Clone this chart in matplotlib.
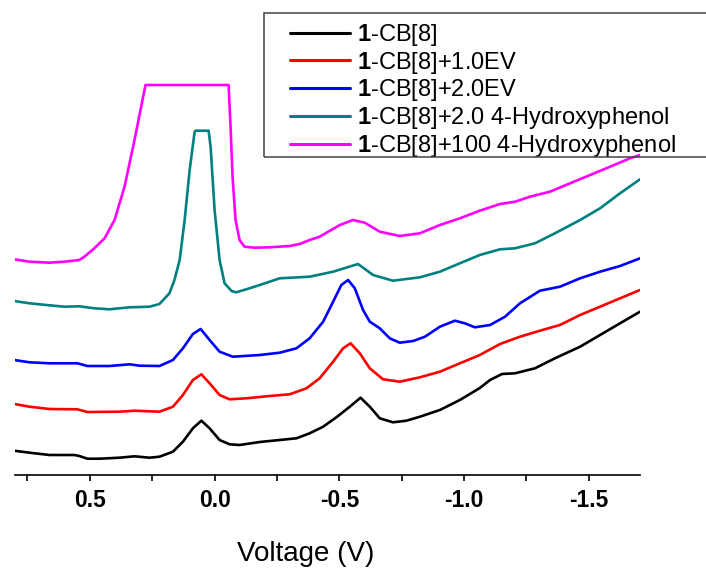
import matplotlib
matplotlib.use("Agg")
import matplotlib.pyplot as plt
from matplotlib.patches import Rectangle

plt.rcParams['font.family'] = ['Liberation Sans', 'DejaVu Sans']
plt.rcParams['mathtext.fontset'] = 'custom'
plt.rcParams['mathtext.rm'] = 'Liberation Sans'
plt.rcParams['mathtext.bf'] = 'Liberation Sans:bold'

# potentials (V) and offset currents (a.u.) for each trace
v_cb8 = [0.803, 0.742, 0.662, 0.562, 0.542, 0.510, 0.461, 0.381, 0.321, 0.261, 0.221, 0.167,
         0.127, 0.087, 0.053, 0.020, -0.020, -0.060, -0.100, -0.181, -0.261, -0.328, -0.381,
         -0.435, -0.488, -0.542, -0.585, -0.622, -0.662, -0.715, -0.769, -0.823, -0.903,
         -0.983, -1.063, -1.104, -1.152, -1.204, -1.284, -1.364, -1.465, -1.545, -1.625,
         -1.705]
i_cb8 = [50.3, 48.3, 46, 46, 45, 42.3, 42.3, 43.3, 44.7, 43.3, 44.3, 49.3,
         59.3, 72.7, 80.3, 72.7, 61, 56.7, 56, 59, 61, 62.7, 67.7,
         74.3, 83.7, 94.3, 103.3, 94.3, 82.7, 78.7, 80.3, 84.3, 91,
         101, 113, 121, 127, 127.7, 132.7, 142.7, 154.3, 166, 177.7,
         189.3]

v_ev1 = [0.803, 0.742, 0.662, 0.550, 0.510, 0.381, 0.321, 0.221, 0.167, 0.127, 0.087, 0.053,
         0.020, -0.020, -0.060, -0.127, -0.221, -0.301, -0.368, -0.421, -0.475, -0.515,
         -0.545, -0.582, -0.622, -0.675, -0.742, -0.823, -0.903, -0.983, -1.063, -1.144,
         -1.224, -1.304, -1.384, -1.465, -1.545, -1.625, -1.705]
i_ev1 = [97, 94.3, 92, 91.7, 89, 89.3, 90.3, 89.3, 94.3, 106, 121, 126.7,
         117.7, 106, 101.7, 102.7, 105, 106.7, 112.7, 122.7, 139.3, 152.7,
         157.7, 147.7, 132.7, 121.7, 119.3, 123.7, 129.3, 137.7, 146, 157,
         164.3, 170.3, 176, 186, 194.3, 202.7, 211]

v_ev2 = [0.803, 0.742, 0.662, 0.550, 0.510, 0.421, 0.341, 0.301, 0.221, 0.167, 0.127, 0.087,
         0.056, 0.020, -0.020, -0.073, -0.181, -0.261, -0.328, -0.381, -0.435, -0.475,
         -0.508, -0.535, -0.562, -0.595, -0.622, -0.662, -0.702, -0.742, -0.796, -0.843,
         -0.903, -0.963, -1.003, -1.043, -1.104, -1.164, -1.224, -1.304, -1.384, -1.465,
         -1.545, -1.625, -1.705]
i_ev2 = [141, 138.7, 137.7, 137.7, 135, 135, 136.7, 135.3, 135, 141, 152.7, 167,
         172, 161, 149.3, 144.3, 146, 148.3, 152.7, 162.7, 179.3, 199.3,
         216, 221, 212.7, 191, 179.3, 172.7, 162.7, 158.3, 160, 164.3,
         174.3, 180.3, 177.7, 173.7, 176, 184.3, 197.7, 210.3, 214.3, 222.7,
         229.3, 235, 242.7]

v_hq2 = [0.803, 0.742, 0.662, 0.602, 0.542, 0.482, 0.421, 0.341, 0.261, 0.221, 0.181, 0.161,
         0.140, 0.120, 0.100, 0.080, 0.076, 0.024, 0.016, 0.000, -0.020, -0.040, -0.068,
         -0.087, -0.140, -0.181, -0.261, -0.381, -0.475, -0.575, -0.635, -0.715, -0.823,
         -0.903, -0.983, -1.063, -1.144, -1.204, -1.284, -1.364, -1.465, -1.545, -1.625,
         -1.705]
i_hq2 = [200, 197.7, 195.7, 194.3, 194.7, 192.7, 191.7, 193.7, 194.3, 197, 207.7, 221,
         241, 281, 331, 369.3, 370.3, 370.3, 354.3, 291, 241, 217.7, 210,
         208.7, 212.7, 216, 222.7, 224.3, 229.3, 237, 226, 220.3, 223.7,
         229.3, 237.7, 246, 251.7, 252.7, 257.7, 267.7, 281, 292.7, 307.7,
         321.7]

v_hq100 = [0.803, 0.742, 0.662, 0.602, 0.542, 0.522, 0.482, 0.441, 0.401, 0.361, 0.321, 0.297,
           0.277, -0.056, -0.064, -0.072, -0.084, -0.100, -0.120, -0.161, -0.221, -0.301,
           -0.341, -0.381, -0.421, -0.502, -0.554, -0.602, -0.662, -0.742, -0.823, -0.903,
           -0.983, -1.063, -1.144, -1.204, -1.264, -1.344, -1.425, -1.505, -1.585, -1.665,
           -1.705]
i_hq100 = [241.7, 239.3, 238.3, 239.3, 241, 244.3, 252.7, 262.7, 281, 314.3, 361, 391,
           416, 416, 374.3, 324.3, 281, 261, 254.3, 253.3, 253.7, 255,
           257, 261, 264.3, 276, 281, 278.3, 269.3, 265, 267.7, 276,
           282.7, 290.3, 297, 299.3, 304.3, 309.3, 317.7, 326, 334.3, 342.7,
           346]

labels = [r'$\mathbf{1}$-CB[8]',
          r'$\mathbf{1}$-CB[8]+1.0EV',
          r'$\mathbf{1}$-CB[8]+2.0EV',
          r'$\mathbf{1}$-CB[8]+2.0 4-Hydroxyphenol',
          r'$\mathbf{1}$-CB[8]+100 4-Hydroxyphenol']
colors = ['#000000', '#ff0000', '#0000ff', '#008080', '#ff00ff']
traces = [(v_cb8, i_cb8), (v_ev1, i_ev1), (v_ev2, i_ev2), (v_hq2, i_hq2), (v_hq100, i_hq100)]

W, H = 706, 569
fig = plt.figure(figsize=(W / 100, H / 100), dpi=100)
ax = fig.add_axes([15 / W, (H - 475) / H, 625 / W, 465 / H])

for (v, i), c, lab in zip(traces, colors, labels):
    ax.plot(v, i, color=c, lw=1.9, label=lab,
            solid_joinstyle='round', solid_capstyle='round')

ax.set_xlim(0.8, -1.705)
ax.set_ylim(26, 491)
ax.set_xticks([0.5, 0.0, -0.5, -1.0, -1.5])
ax.set_xticks([0.75, 0.25, -0.25, -0.75, -1.25], minor=True)
ax.set_xticklabels(['0.5', '0.0', '-0.5', '-1.0', '-1.5'])
ax.tick_params(axis='x', which='both', direction='out', length=4, width=1.2,
               pad=6, labelsize=16.5)
for t in ax.get_xticklabels():
    t.set_fontweight('bold')
ax.set_yticks([])
for side in ['left', 'right', 'top']:
    ax.spines[side].set_visible(False)
ax.spines['bottom'].set_linewidth(1.2)

ax.set_xlabel('Voltage (V)', fontsize=20)
ax.xaxis.set_label_coords(0.4656, -0.143)

leg = ax.legend(loc='upper left', bbox_to_anchor=(278 / W, 1 - 10 / H),
                bbox_transform=fig.transFigure, frameon=False, fontsize=17,
                borderpad=0, handlelength=2.55, handletextpad=0.3, labelspacing=0.075)
for line in leg.get_lines():
    line.set_linewidth(2.2)

fig.patches.append(Rectangle((264 / W, 1 - 157 / H), 450 / W, 144 / H,
                             transform=fig.transFigure, fill=False,
                             edgecolor='#444444', lw=1.1, zorder=5))

fig.savefig('out.png', dpi=100)
